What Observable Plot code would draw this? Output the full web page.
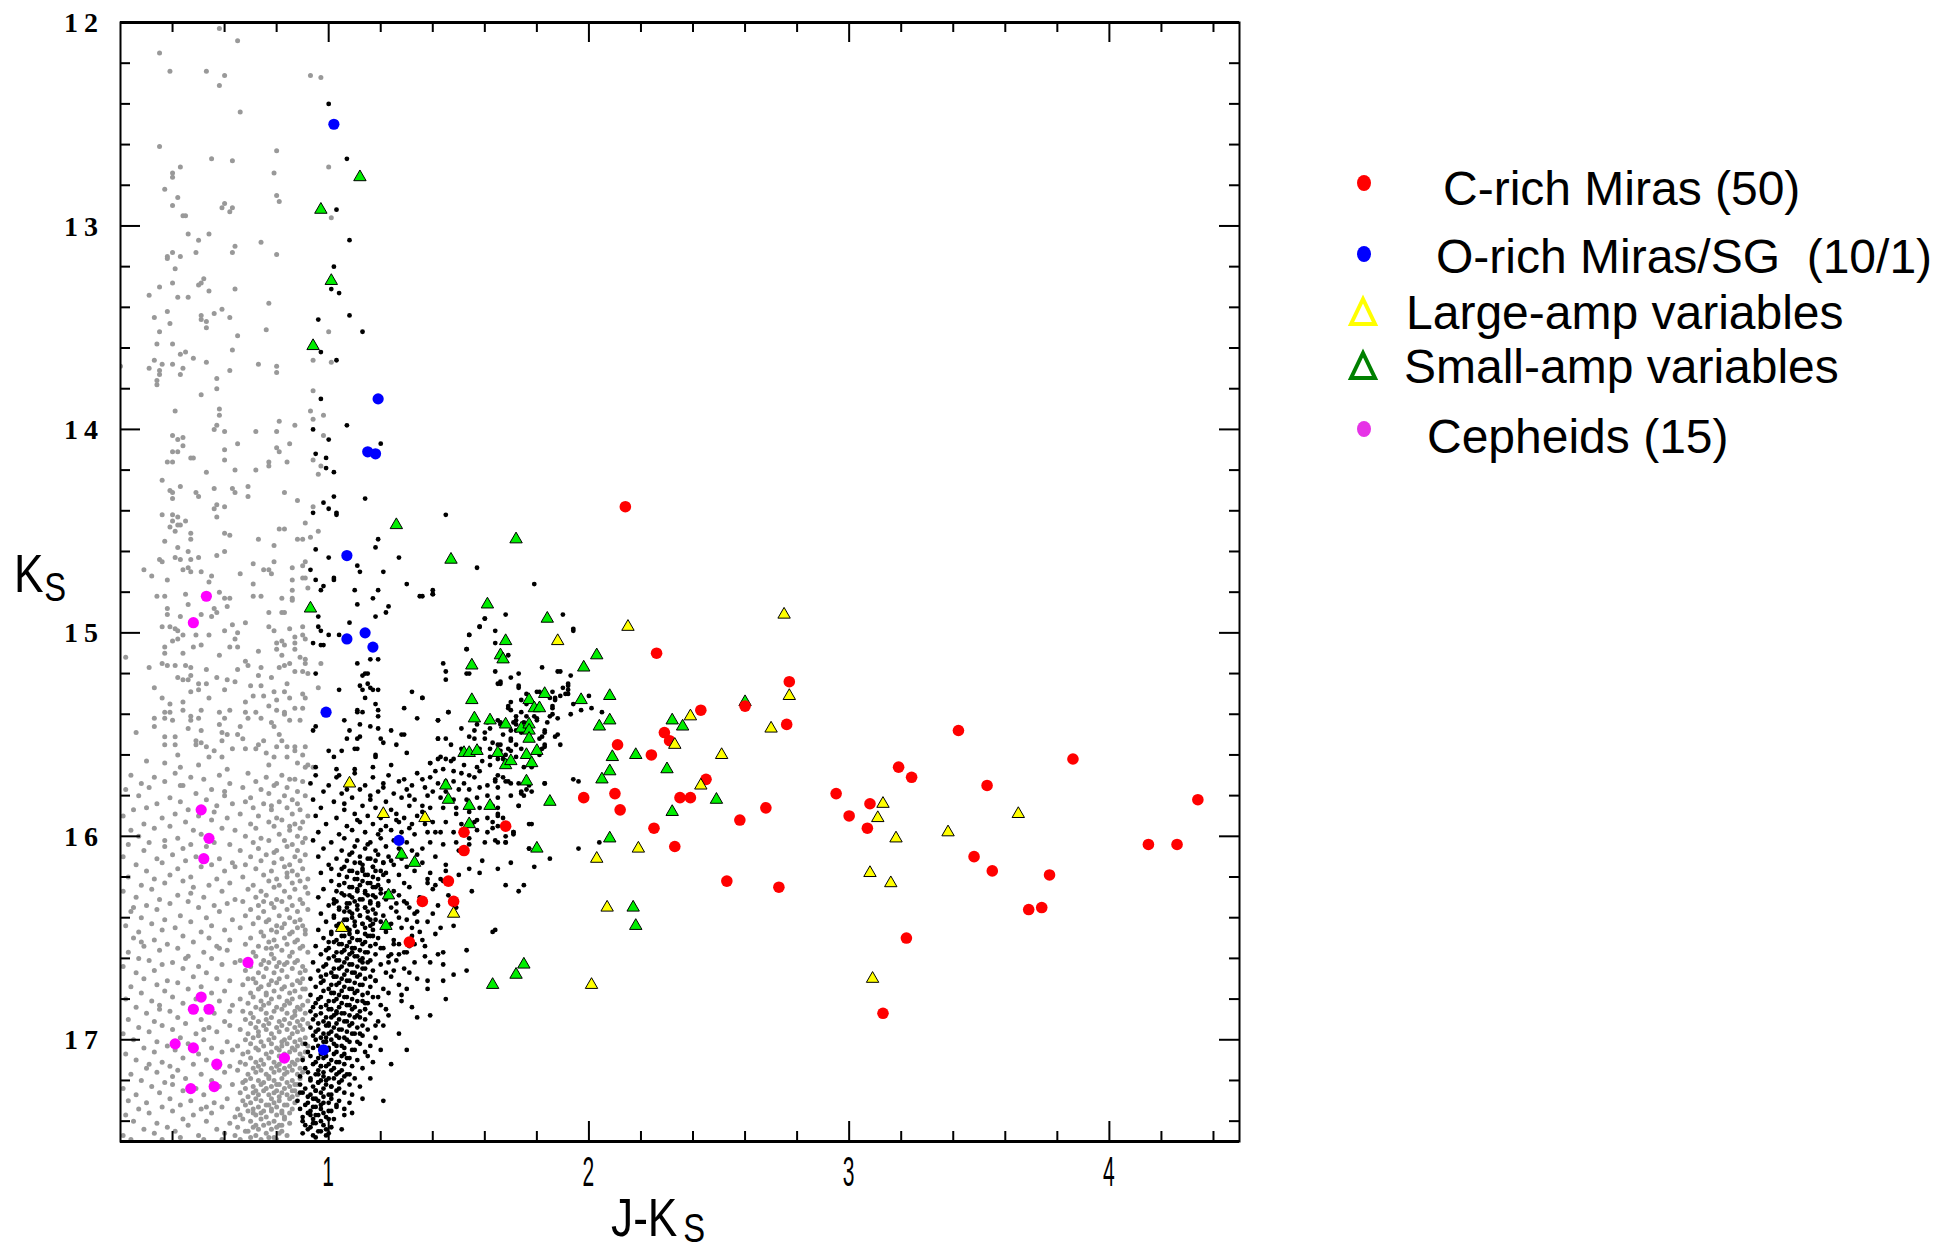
<!DOCTYPE html>
<html>
<head>
<meta charset="utf-8">
<script src="https://cdn.jsdelivr.net/npm/d3@7"></script>
<script src="https://cdn.jsdelivr.net/npm/@observablehq/plot@0.6"></script>
<style>
  body { margin: 0; background: #fff; }
  #chart { position: relative; width: 1941px; height: 1253px; }
</style>
</head>
<body>
<div id="chart"></div>
<script>
// ---------- axis ticks ----------
const xMajorTicks = [1, 2, 3, 4];
const xMinorTicks = [0.4, 0.6, 0.8, 1.2, 1.4, 1.6, 1.8, 2.2, 2.4, 2.6, 2.8, 3.2, 3.4, 3.6, 3.8, 4.2, 4.4];
const yMajorTicks = [12, 13, 14, 15, 16, 17];
const yMinorTicks = [12.2, 12.4, 12.6, 12.8, 13.2, 13.4, 13.6, 13.8, 14.2, 14.4, 14.6, 14.8,
  15.2, 15.4, 15.6, 15.8, 16.2, 16.4, 16.6, 16.8, 17.2, 17.4];

// ---------- variable stars: [J-Ks, Ks] ----------
const cRichMiras = [
  [2.14,14.38],[2.26,15.10],[2.77,15.24],[2.60,15.36],[2.76,15.45],[2.43,15.38],[2.29,15.49],
  [2.31,15.53],[2.11,15.55],[2.24,15.60],[2.45,15.72],[1.98,15.81],[2.10,15.79],[2.12,15.87],
  [2.35,15.81],[2.39,15.81],[1.68,15.95],[2.25,15.96],[2.33,16.05],[2.58,15.92],[2.68,15.86],
  [2.53,16.22],[2.73,16.25],[2.95,15.79],[3.00,15.90],[3.08,15.84],[3.07,15.96],[3.42,15.48],
  [3.86,15.62],[3.19,15.66],[3.24,15.71],[3.53,15.75],[4.34,15.82],[4.15,16.04],[4.26,16.04],
  [3.48,16.10],[3.55,16.17],[3.77,16.19],[3.69,16.36],[3.74,16.35],[3.22,16.50],[3.13,16.87],
  [1.52,15.98],[1.52,16.07],[1.46,16.22],[1.36,16.32],[1.48,16.32],[1.31,16.52]
];
const oRichMiras = [
  [1.02,12.50],[1.19,13.85],[1.15,14.11],[1.18,14.12],[1.07,14.62],[1.07,15.03],
  [1.14,15.00],[1.17,15.07],[0.99,15.39],[1.27,16.02],[0.98,17.05]
];
const cepheids = [
  [0.53,14.82],[0.48,14.95],[0.51,15.87],[0.54,16.01],[0.52,16.11],[0.69,16.62],[0.51,16.79],
  [0.48,16.85],[0.54,16.85],[0.41,17.02],[0.48,17.04],[0.57,17.12],[0.83,17.09],[0.47,17.24],[0.56,17.23]
];
const largeAmpVariables = [
  [2.15,14.97],[2.75,14.91],[1.88,15.04],[2.77,15.31],[2.39,15.41],[2.70,15.47],[2.33,15.55],
  [2.51,15.60],[2.43,15.75],[1.37,15.91],[2.19,16.06],[2.03,16.11],[2.07,16.35],[2.01,16.73],
  [3.08,16.18],[3.09,16.70],[3.13,15.84],[3.11,15.91],[3.18,16.01],[3.38,15.98],[3.65,15.89],
  [3.16,16.23],[1.08,15.74],[1.21,15.89],[1.05,16.45],[1.48,16.38]
];
const smallAmpVariables = [
  [1.12,12.76],[0.97,12.92],[1.01,13.27],[0.94,13.59],[1.26,14.47],[1.47,14.64],[1.72,14.54],
  [1.61,14.86],[0.93,14.88],[1.84,14.93],[1.68,15.04],[1.66,15.11],[1.67,15.13],[1.55,15.16],
  [2.03,15.11],[1.98,15.17],[1.55,15.33],[1.83,15.30],[1.77,15.33],[1.79,15.37],[1.81,15.37],
  [1.97,15.33],[2.08,15.31],[1.56,15.42],[1.62,15.43],[1.68,15.45],[1.74,15.47],[1.77,15.45],
  [1.77,15.48],[1.77,15.52],[2.04,15.46],[2.08,15.43],[2.32,15.43],[2.36,15.46],[2.60,15.34],
  [1.52,15.59],[1.54,15.59],[1.57,15.58],[1.65,15.59],[1.80,15.58],[1.76,15.60],[1.68,15.65],
  [1.70,15.63],[1.78,15.64],[2.09,15.61],[2.18,15.60],[2.30,15.67],[2.08,15.68],[2.05,15.72],
  [1.76,15.73],[1.45,15.75],[1.46,15.82],[1.54,15.85],[1.62,15.85],[1.85,15.83],[2.32,15.88],
  [2.49,15.82],[1.54,15.94],[2.08,16.01],[1.80,16.06],[1.28,16.09],[1.33,16.13],[1.23,16.29],
  [1.22,16.44],[2.17,16.35],[2.18,16.44],[1.75,16.63],[1.72,16.68],[1.63,16.73]
];

// ---------- foreground field stars (grey), flat J-Ks, Ks pairs ----------
const foregroundStars = [
  0.58,12.03, 0.65,12.09, 0.35,12.15, 0.39,12.24, 0.53,12.24, 0.60,12.26, 0.58,12.31, 0.93,12.26,
  0.97,12.27, 0.66,12.44, 0.35,12.61, 0.80,12.63, 0.55,12.67, 0.63,12.68, 0.43,12.71, 1.00,12.71,
  0.40,12.74, 0.40,12.76, 0.79,12.74, 0.37,12.82, 0.42,12.86, 0.40,12.90, 0.80,12.85, 0.81,12.88,
  0.60,12.89, 0.59,12.91, 0.63,12.91, 0.62,12.93, 0.44,12.95, 0.45,12.95, 1.01,12.96, 0.46,13.04,
  0.54,13.04, 0.50,13.07, 0.74,13.08, 0.40,13.13, 0.38,13.15, 0.38,13.16, 0.43,13.15, 0.49,13.13,
  0.64,13.10, 0.63,13.13, 0.80,13.14, 0.41,13.21, 0.40,13.28, 0.35,13.30, 0.31,13.34, 0.42,13.35,
  0.46,13.35, 0.52,13.26, 0.51,13.28, 0.50,13.29, 0.54,13.32, 0.64,13.31, 0.77,13.38, 0.38,13.42,
  0.33,13.45, 0.39,13.48, 0.51,13.44, 0.51,13.46, 0.53,13.47, 0.53,13.50, 0.56,13.43, 0.59,13.41,
  0.62,13.45, 0.76,13.51, 0.65,13.54, 1.00,13.52, 0.35,13.52, 0.34,13.58, 0.40,13.58, 0.43,13.63,
  0.45,13.62, 0.48,13.65, 0.63,13.61, 0.33,13.66, 0.31,13.70, 0.35,13.71, 0.35,13.73, 0.34,13.76,
  0.34,13.78, 0.36,13.68, 0.40,13.68, 0.44,13.70, 0.43,13.73, 0.53,13.67, 0.57,13.75, 0.57,13.80,
  0.51,13.83, 0.62,13.71, 0.73,13.68, 0.80,13.69, 0.80,13.72, 0.94,13.66, 1.01,13.67, 0.94,13.81,
  0.20,13.69,
  0.41,13.91, 0.58,13.90, 0.58,13.93, 0.57,13.98, 0.56,14.00, 0.60,14.01, 0.72,14.01, 0.81,13.96,
  0.80,14.01, 0.87,13.98, 0.93,13.91, 0.94,13.95, 0.98,13.93, 0.98,14.03, 0.40,14.03, 0.44,14.04,
  0.42,14.05, 0.44,14.08, 0.85,14.07, 0.65,14.07, 0.40,14.11, 0.42,14.11, 0.38,14.16, 0.40,14.16,
  0.47,14.14, 0.48,14.14, 0.60,14.10, 0.60,14.15, 0.80,14.09, 0.81,14.11, 0.77,14.16, 0.77,14.18,
  0.84,14.16, 0.94,14.15, 0.97,14.18, 0.96,14.22, 0.53,14.21, 0.64,14.20, 0.72,14.20, 0.36,14.25,
  0.39,14.30, 0.40,14.31, 0.43,14.28, 0.49,14.31, 0.50,14.33, 0.56,14.29, 0.63,14.29, 0.64,14.31,
  0.69,14.28, 0.69,14.33, 0.83,14.31, 0.88,14.35, 0.40,14.34, 0.57,14.37, 0.60,14.38, 0.56,14.39,
  0.57,14.43, 0.94,14.38, 0.36,14.42, 0.40,14.42, 0.42,14.43, 0.40,14.45, 0.42,14.47, 0.45,14.45,
  0.43,14.47, 0.41,14.50, 0.39,14.48, 0.47,14.51, 0.47,14.54, 0.60,14.51, 0.62,14.52, 0.73,14.54,
  0.81,14.49, 0.83,14.49, 0.79,14.57, 0.88,14.54, 0.90,14.54, 0.93,14.53, 0.96,14.50, 0.91,14.46,
  0.37,14.55, 0.42,14.58, 0.35,14.64, 0.36,14.65, 0.41,14.63, 0.43,14.64, 0.46,14.60, 0.47,14.64,
  0.50,14.63, 0.57,14.62, 0.60,14.60, 0.29,14.69, 0.32,14.72, 0.38,14.74, 0.44,14.69, 0.46,14.68,
  0.47,14.70, 0.51,14.70, 0.55,14.72, 0.54,14.75, 0.66,14.71, 0.71,14.66, 0.75,14.69, 0.77,14.69,
  0.79,14.65, 0.78,14.71, 0.86,14.68, 0.86,14.74, 0.90,14.67, 0.91,14.65, 0.91,14.73, 0.34,14.82,
  0.37,14.82, 0.45,14.81, 0.46,14.86, 0.58,14.80, 0.60,14.83, 0.62,14.83, 0.61,14.87, 0.71,14.76,
  0.71,14.82, 0.74,14.82, 0.82,14.83, 0.86,14.83, 0.86,14.84, 0.92,14.78, 0.90,14.73, 0.86,14.79,
  0.38,14.88, 0.38,14.91, 0.43,14.92, 0.51,14.91, 0.55,14.92, 0.56,14.88, 0.57,14.90, 0.63,14.96,
  0.68,14.95, 0.77,14.90, 0.82,14.90, 0.83,14.90, 0.36,14.97, 0.39,14.97, 0.41,14.98, 0.42,14.99,
  0.44,15.01, 0.49,15.01, 0.54,15.01, 0.60,14.99, 0.65,15.00, 0.64,15.03, 0.77,14.97, 0.79,14.99,
  0.80,15.05, 0.82,15.04, 0.83,15.06, 0.85,14.98, 0.87,15.02, 0.90,15.01, 0.90,14.97, 0.91,15.03,
  0.22,15.12, 0.37,15.07, 0.37,15.10, 0.40,15.04, 0.42,15.03, 0.44,15.10, 0.48,15.07, 0.51,15.06,
  0.58,15.11, 0.62,15.07, 0.65,15.07, 0.68,15.14, 0.69,15.16, 0.73,15.09, 0.80,15.08, 0.82,15.11,
  0.87,15.05, 0.87,15.08, 0.89,15.12, 0.91,15.13, 0.97,15.15, 0.31,15.17, 0.36,15.15, 0.38,15.16,
  0.41,15.16, 0.45,15.16, 0.47,15.17, 0.53,15.18, 0.44,15.23, 0.46,15.23, 0.47,15.21, 0.42,15.22,
  0.50,15.25, 0.53,15.25, 0.57,15.22, 0.61,15.23, 0.64,15.24, 0.65,15.18, 0.73,15.21, 0.74,15.17,
  0.78,15.22, 0.81,15.17, 0.83,15.16, 0.85,15.15, 0.87,15.19, 0.90,15.19, 0.92,15.20, 0.91,15.15,
  0.96,15.27, 0.33,15.27, 0.36,15.32, 0.39,15.35, 0.44,15.34, 0.47,15.29, 0.50,15.28, 0.54,15.32,
  0.60,15.28, 0.68,15.34, 0.70,15.26, 0.71,15.31, 0.74,15.26, 0.75,15.31, 0.77,15.36, 0.79,15.29,
  0.80,15.33, 0.83,15.29, 0.84,15.25, 0.85,15.32, 0.90,15.30, 0.91,15.32, 0.33,15.42, 0.33,15.46,
  0.26,15.49, 0.37,15.39, 0.37,15.42, 0.39,15.39, 0.40,15.43, 0.44,15.38, 0.46,15.47, 0.47,15.41,
  0.47,15.43, 0.50,15.42, 0.51,15.38, 0.51,15.48, 0.49,15.53, 0.49,15.55, 0.51,15.54, 0.58,15.39,
  0.60,15.42, 0.58,15.45, 0.59,15.49, 0.61,15.50, 0.62,15.38, 0.66,15.46, 0.65,15.50, 0.67,15.52,
  0.68,15.39, 0.69,15.42, 0.72,15.39, 0.74,15.42, 0.78,15.44, 0.80,15.38, 0.79,15.46, 0.83,15.40,
  0.83,15.39, 0.85,15.43, 0.87,15.37, 0.89,15.43, 0.90,15.37, 0.81,15.50, 0.82,15.53, 0.87,15.56,
  0.91,15.56, 0.90,15.60, 0.37,15.51, 0.37,15.55, 0.41,15.51, 0.41,15.55, 0.42,15.60, 0.37,15.64,
  0.43,15.66, 0.50,15.65, 0.53,15.56, 0.54,15.61, 0.56,15.58, 0.59,15.61, 0.59,15.53, 0.63,15.57,
  0.68,15.57, 0.72,15.57, 0.73,15.55, 0.75,15.53, 0.76,15.59, 0.77,15.65, 0.79,15.61, 0.80,15.56,
  0.84,15.56, 0.84,15.61, 0.87,15.58, 0.88,15.64, 0.92,15.65, 0.30,15.63, 0.61,15.67, 0.91,15.66,
  0.94,15.66,
  0.24,15.70, 0.33,15.71, 0.41,15.69, 0.47,15.71, 0.58,15.70, 0.69,15.69, 0.76,15.71, 0.82,15.70, 0.87,15.72,
  0.28,15.74, 0.37,15.73, 0.52,15.72, 0.62,15.74, 0.72,15.73, 0.80,15.74, 0.85,15.72, 0.90,15.73,
  0.22,15.77, 0.31,15.76, 0.44,15.75, 0.55,15.77, 0.67,15.76, 0.74,15.77, 0.79,15.75, 0.84,15.76, 0.88,15.78,
  0.27,15.80, 0.39,15.81, 0.49,15.79, 0.60,15.80, 0.70,15.81, 0.77,15.79, 0.83,15.80, 0.86,15.82, 0.91,15.80,
  0.34,15.84, 0.43,15.83, 0.53,15.82, 0.63,15.84, 0.68,15.83, 0.75,15.84, 0.81,15.83, 0.88,15.84,
  0.25,15.87, 0.30,15.86, 0.46,15.87, 0.57,15.85, 0.71,15.86, 0.78,15.87, 0.84,15.86, 0.89,15.87,
  0.21,15.90, 0.36,15.91, 0.41,15.89, 0.50,15.90, 0.61,15.91, 0.66,15.89, 0.73,15.90, 0.80,15.91, 0.86,15.89, 0.92,15.90,
  0.29,15.94, 0.45,15.93, 0.55,15.92, 0.70,15.94, 0.77,15.93, 0.82,15.92, 0.87,15.94, 0.90,15.93,
  0.24,15.97, 0.33,15.96, 0.39,15.95, 0.48,15.97, 0.59,15.96, 0.64,15.97, 0.72,15.96, 0.79,15.95, 0.85,15.97, 0.89,15.96,
  0.27,16.00, 0.42,16.01, 0.51,15.99, 0.68,16.00, 0.74,16.01, 0.81,15.99, 0.83,16.02, 0.88,16.00, 0.91,16.01,
  0.23,16.04, 0.31,16.03, 0.37,16.02, 0.47,16.04, 0.56,16.03, 0.62,16.04, 0.71,16.03, 0.77,16.02, 0.86,16.04, 0.90,16.03,
  0.29,16.07, 0.44,16.06, 0.53,16.05, 0.66,16.07, 0.73,16.06, 0.80,16.07, 0.84,16.05, 0.88,16.07,
  0.21,16.10, 0.34,16.11, 0.40,16.09, 0.49,16.10, 0.58,16.11, 0.70,16.10, 0.76,16.09, 0.82,16.11, 0.87,16.10, 0.91,16.09,
  0.26,16.14, 0.36,16.13, 0.45,16.12, 0.55,16.14, 0.63,16.13, 0.68,16.14, 0.74,16.12, 0.79,16.13, 0.85,16.14, 0.89,16.12,
  0.30,16.17, 0.42,16.16, 0.51,16.15, 0.60,16.17, 0.72,16.16, 0.78,16.17, 0.83,16.15, 0.86,16.17, 0.90,16.16,
  0.23,16.20, 0.33,16.21, 0.39,16.19, 0.47,16.20, 0.57,16.21, 0.67,16.20, 0.75,16.19, 0.80,16.21, 0.84,16.20, 0.88,16.19, 0.92,16.21,
  0.28,16.24, 0.37,16.23, 0.44,16.22, 0.54,16.24, 0.62,16.23, 0.71,16.24, 0.77,16.22, 0.81,16.24, 0.86,16.23, 0.89,16.22,
  0.21,16.27, 0.32,16.26, 0.48,16.25, 0.59,16.27, 0.69,16.26, 0.74,16.27, 0.79,16.25, 0.83,16.27, 0.87,16.26, 0.91,16.25,
  0.26,16.30, 0.35,16.31, 0.42,16.29, 0.52,16.30, 0.64,16.31, 0.72,16.30, 0.76,16.29, 0.80,16.31, 0.85,16.30, 0.89,16.31,
  0.30,16.34, 0.39,16.33, 0.46,16.32, 0.56,16.34, 0.61,16.33, 0.67,16.32, 0.73,16.34, 0.78,16.33, 0.82,16.32, 0.86,16.34, 0.90,16.33,
  0.24,16.37, 0.34,16.36, 0.50,16.35, 0.58,16.37, 0.70,16.36, 0.75,16.37, 0.79,16.35, 0.84,16.36, 0.88,16.37, 0.92,16.36,
  0.28,16.40, 0.37,16.41, 0.43,16.39, 0.53,16.40, 0.63,16.41, 0.68,16.39, 0.73,16.40, 0.77,16.41, 0.81,16.39, 0.85,16.40, 0.89,16.41,
  0.22,16.44, 0.32,16.43, 0.47,16.42, 0.55,16.44, 0.71,16.43, 0.76,16.42, 0.80,16.44, 0.83,16.43, 0.87,16.42, 0.90,16.44,
  0.27,16.47, 0.36,16.46, 0.41,16.45, 0.51,16.47, 0.60,16.46, 0.66,16.45, 0.74,16.47, 0.78,16.46, 0.82,16.45, 0.86,16.47, 0.91,16.46,
  0.25,16.50, 0.33,16.51, 0.44,16.49, 0.54,16.50, 0.62,16.51, 0.70,16.50, 0.75,16.49, 0.79,16.51, 0.83,16.50, 0.85,16.48, 0.88,16.51,
  0.29,16.54, 0.38,16.53, 0.48,16.52, 0.57,16.54, 0.68,16.53, 0.73,16.54, 0.77,16.52, 0.80,16.54, 0.84,16.53, 0.87,16.52, 0.90,16.54,
  0.23,16.57, 0.35,16.56, 0.42,16.55, 0.52,16.57, 0.61,16.56, 0.71,16.57, 0.76,16.55, 0.78,16.58, 0.82,16.56, 0.86,16.57, 0.89,16.55, 0.92,16.57,
  0.27,16.60, 0.31,16.61, 0.46,16.59, 0.55,16.60, 0.66,16.61, 0.72,16.59, 0.75,16.61, 0.79,16.60, 0.81,16.62, 0.85,16.59, 0.88,16.61,
  0.21,16.64, 0.36,16.63, 0.40,16.62, 0.50,16.64, 0.59,16.63, 0.64,16.62, 0.70,16.64, 0.74,16.63, 0.77,16.62, 0.80,16.64, 0.83,16.63, 0.87,16.62, 0.90,16.64,
  0.26,16.67, 0.33,16.66, 0.44,16.65, 0.53,16.67, 0.68,16.66, 0.73,16.67, 0.76,16.65, 0.79,16.67, 0.82,16.66, 0.86,16.65, 0.89,16.67, 0.91,16.66,
  0.29,16.70, 0.38,16.71, 0.48,16.69, 0.57,16.70, 0.62,16.71, 0.71,16.70, 0.75,16.69, 0.78,16.71, 0.81,16.70, 0.84,16.69, 0.88,16.71, 0.90,16.70,
  0.24,16.74, 0.34,16.73, 0.42,16.72, 0.51,16.74, 0.67,16.73, 0.72,16.72, 0.74,16.74, 0.77,16.73, 0.80,16.72, 0.83,16.74, 0.86,16.73, 0.89,16.72,
  0.28,16.77, 0.37,16.76, 0.46,16.75, 0.55,16.77, 0.60,16.76, 0.70,16.77, 0.73,16.75, 0.76,16.77, 0.79,16.76, 0.82,16.75, 0.85,16.77, 0.87,16.76, 0.91,16.75,
  0.22,16.80, 0.32,16.81, 0.40,16.79, 0.49,16.80, 0.58,16.81, 0.66,16.80, 0.71,16.79, 0.74,16.81, 0.78,16.80, 0.81,16.79, 0.84,16.81, 0.86,16.80, 0.89,16.79, 0.92,16.81,
  0.26,16.84, 0.35,16.83, 0.44,16.82, 0.53,16.84, 0.63,16.83, 0.69,16.82, 0.72,16.84, 0.75,16.83, 0.77,16.82, 0.80,16.84, 0.83,16.83, 0.85,16.82, 0.88,16.84, 0.90,16.83,
  0.30,16.87, 0.39,16.86, 0.47,16.85, 0.56,16.87, 0.67,16.86, 0.70,16.87, 0.74,16.85, 0.76,16.87, 0.79,16.86, 0.82,16.85, 0.84,16.87, 0.87,16.86, 0.89,16.85, 0.91,16.87,
  0.23,16.90, 0.33,16.91, 0.42,16.89, 0.51,16.90, 0.60,16.91, 0.68,16.90, 0.71,16.89, 0.73,16.91, 0.76,16.90, 0.78,16.89, 0.81,16.91, 0.83,16.90, 0.86,16.89, 0.88,16.91, 0.90,16.90,
  0.27,16.94, 0.36,16.93, 0.45,16.92, 0.54,16.94, 0.62,16.93, 0.70,16.92, 0.72,16.94, 0.75,16.93, 0.77,16.92, 0.80,16.94, 0.82,16.93, 0.85,16.92, 0.87,16.94, 0.89,16.93, 0.92,16.92,
  0.21,16.97, 0.31,16.96, 0.40,16.95, 0.49,16.97, 0.57,16.96, 0.66,16.95, 0.69,16.97, 0.73,16.96, 0.76,16.95, 0.78,16.97, 0.81,16.96, 0.84,16.95, 0.86,16.97, 0.88,16.96, 0.90,16.95,
  0.25,17.00, 0.34,17.01, 0.43,16.99, 0.52,17.00, 0.61,17.01, 0.68,17.00, 0.71,16.99, 0.74,17.01, 0.77,17.00, 0.79,16.99, 0.82,17.01, 0.83,17.00, 0.85,16.99, 0.87,17.01, 0.89,17.00, 0.91,16.99,
  0.29,17.04, 0.38,17.03, 0.46,17.02, 0.55,17.04, 0.65,17.03, 0.70,17.02, 0.72,17.04, 0.75,17.03, 0.78,17.02, 0.80,17.04, 0.82,17.03, 0.84,17.02, 0.86,17.04, 0.88,17.03, 0.90,17.02,
  0.22,17.07, 0.33,17.06, 0.41,17.05, 0.50,17.07, 0.59,17.06, 0.63,17.05, 0.67,17.07, 0.69,17.06, 0.73,17.05, 0.76,17.07, 0.78,17.06, 0.81,17.05, 0.83,17.07, 0.85,17.06, 0.87,17.05, 0.89,17.07, 0.91,17.06,
  0.26,17.10, 0.36,17.11, 0.44,17.09, 0.53,17.10, 0.66,17.11, 0.70,17.09, 0.72,17.11, 0.74,17.10, 0.77,17.09, 0.79,17.11, 0.82,17.10, 0.84,17.09, 0.86,17.11, 0.88,17.10, 0.90,17.09,
  0.30,17.14, 0.39,17.13, 0.48,17.12, 0.57,17.14, 0.62,17.13, 0.68,17.12, 0.71,17.14, 0.73,17.13, 0.75,17.12, 0.78,17.14, 0.80,17.13, 0.81,17.12, 0.83,17.14, 0.85,17.13, 0.87,17.12, 0.89,17.14,
  0.24,17.17, 0.34,17.16, 0.42,17.15, 0.51,17.17, 0.60,17.16, 0.65,17.15, 0.69,17.17, 0.72,17.16, 0.74,17.15, 0.76,17.17, 0.79,17.16, 0.81,17.15, 0.83,17.17, 0.84,17.16, 0.86,17.15, 0.88,17.17, 0.90,17.16,
  0.28,17.20, 0.37,17.21, 0.45,17.19, 0.55,17.20, 0.67,17.21, 0.70,17.19, 0.73,17.20, 0.75,17.21, 0.77,17.19, 0.79,17.20, 0.80,17.22, 0.82,17.19, 0.84,17.21, 0.86,17.20, 0.87,17.22, 0.89,17.19,
  0.21,17.24, 0.32,17.23, 0.40,17.22, 0.49,17.24, 0.58,17.23, 0.63,17.22, 0.68,17.24, 0.71,17.23, 0.72,17.25, 0.74,17.22, 0.76,17.24, 0.78,17.23, 0.80,17.25, 0.81,17.22, 0.83,17.24, 0.85,17.23, 0.87,17.25, 0.88,17.22,
  0.26,17.27, 0.35,17.26, 0.44,17.25, 0.52,17.27, 0.66,17.26, 0.69,17.28, 0.71,17.26, 0.73,17.27, 0.75,17.25, 0.77,17.27, 0.79,17.26, 0.81,17.28, 0.82,17.26, 0.84,17.27, 0.86,17.25, 0.88,17.27,
  0.23,17.30, 0.30,17.31, 0.39,17.29, 0.47,17.30, 0.56,17.31, 0.61,17.29, 0.67,17.30, 0.70,17.31, 0.72,17.29, 0.74,17.30, 0.76,17.32, 0.78,17.29, 0.79,17.31, 0.81,17.30, 0.83,17.32, 0.85,17.29, 0.87,17.31,
  0.27,17.34, 0.36,17.33, 0.43,17.32, 0.51,17.34, 0.59,17.33, 0.65,17.34, 0.68,17.32, 0.71,17.34, 0.73,17.33, 0.75,17.35, 0.77,17.32, 0.78,17.34, 0.80,17.33, 0.82,17.35, 0.84,17.32, 0.86,17.34,
  0.22,17.37, 0.31,17.36, 0.40,17.35, 0.48,17.37, 0.55,17.36, 0.66,17.37, 0.69,17.35, 0.72,17.37, 0.74,17.36, 0.76,17.38, 0.78,17.35, 0.80,17.37, 0.82,17.36, 0.83,17.38, 0.85,17.36,
  0.25,17.40, 0.34,17.41, 0.44,17.39, 0.53,17.40, 0.62,17.41, 0.67,17.39, 0.70,17.40, 0.72,17.42, 0.74,17.39, 0.77,17.41, 0.79,17.40, 0.81,17.42, 0.83,17.39, 0.85,17.41,
  0.29,17.44, 0.38,17.43, 0.46,17.42, 0.57,17.44, 0.65,17.43, 0.68,17.45, 0.71,17.43, 0.73,17.44, 0.75,17.42, 0.78,17.44, 0.80,17.43, 0.82,17.45,
  0.21,17.47, 0.33,17.46, 0.41,17.45, 0.50,17.47, 0.60,17.46, 0.64,17.47, 0.69,17.45, 0.72,17.47, 0.76,17.46, 0.79,17.48, 0.81,17.46, 0.84,17.47,
  0.24,17.49, 0.36,17.49, 0.43,17.48, 0.52,17.49, 0.59,17.49, 0.66,17.49, 0.70,17.48, 0.74,17.49, 0.77,17.48, 0.80,17.49,
  0.80,16.47, 0.84,16.62, 0.76,16.78, 0.87,16.88, 0.73,16.98, 0.81,17.08, 0.77,17.18, 0.86,17.28,
  0.71,17.36, 0.82,17.42, 0.78,16.55, 0.69,16.70, 0.88,16.45, 0.75,16.32, 0.84,16.18, 0.79,16.08,
  0.85,15.95, 0.78,15.85, 0.92,16.28, 0.91,16.48, 0.90,16.75, 0.92,17.03, 0.68,17.20, 0.64,17.38,
  0.62,16.86, 0.58,16.55, 0.45,16.60, 0.35,16.85, 0.28,16.52, 0.40,17.18, 0.53,17.33, 0.31,17.12,
  0.47,16.28, 0.37,16.05, 0.56,15.88, 0.43,15.75, 0.25,16.35, 0.64,16.15, 0.60,15.78, 0.52,16.95
];

// ---------- galaxy members (black), flat J-Ks, Ks pairs ----------
const memberStars = [
  // upper branch
  1.00,12.40, 1.07,12.67, 1.03,12.92, 1.08,13.07, 1.02,13.20, 1.01,13.31, 1.04,13.33, 0.96,13.46,
  1.08,13.44, 1.13,13.52, 0.97,13.62, 1.03,13.66, 0.97,13.85,
  0.94,14.00, 1.07,13.98, 1.00,14.05, 1.20,14.07, 0.95,14.12, 0.99,14.14, 0.99,14.19, 1.02,14.21,
  1.02,14.33, 1.14,14.34, 0.98,14.36, 1.00,14.39, 0.94,14.41, 1.03,14.42, 1.03,14.41, 1.45,14.42,
  1.19,14.54, 1.18,14.58, 0.95,14.59, 1.00,14.63, 1.27,14.63, 1.11,14.67, 1.12,14.70, 1.21,14.70,
  1.57,14.68, 0.93,14.69, 1.02,14.73, 1.02,14.74, 0.95,14.74, 1.10,14.79, 1.19,14.79, 1.30,14.76,
  0.98,14.77, 0.97,14.79, 1.36,14.82, 1.40,14.79, 1.40,14.81, 1.17,14.83, 1.11,14.86, 1.23,14.87,
  1.22,14.90, 1.18,14.92, 1.60,14.93, 0.96,14.92, 1.08,14.95, 1.58,14.97, 1.04,15.01, 1.00,15.01,
  0.96,14.97, 0.97,14.99, 0.97,15.06, 0.98,15.06, 0.94,15.05, 1.54,15.01, 1.53,15.08, 1.16,15.13,
  1.19,15.13, 1.11,15.15, 1.44,15.15, 1.45,15.19, 1.45,15.23, 1.53,15.20, 1.64,15.19, 1.65,15.25,
  0.95,15.20, 1.14,15.20, 1.15,15.20, 1.13,15.21, 1.15,15.25, 1.12,15.26, 1.16,15.27, 1.14,15.32,
  1.13,15.28, 1.17,15.28, 1.19,15.28, 1.04,15.28, 0.95,15.46, 0.94,15.48, 1.32,15.29, 1.36,15.32,
  1.18,15.35, 1.19,15.38, 1.19,15.41, 1.11,15.38, 1.11,15.39, 1.13,15.39, 1.29,15.37, 1.34,15.42,
  1.42,15.43, 1.46,15.39, 1.51,15.47, 1.06,15.43, 1.12,15.45, 1.16,15.46, 1.08,15.48, 1.12,15.51,
  1.11,15.52, 1.07,15.52, 1.19,15.47, 1.20,15.52, 1.24,15.48, 1.28,15.50, 1.29,15.50, 1.21,15.54,
  1.26,15.55, 1.05,15.58, 1.11,15.57, 1.10,15.57, 1.02,15.61, 1.00,15.58, 1.18,15.60, 1.18,15.61,
  1.24,15.65, 1.30,15.59, 1.39,15.64, 1.42,15.52, 1.43,15.61, 0.95,15.66, 1.03,15.67, 1.04,15.70,
  1.10,15.67, 1.17,15.66,
  // red-giant / AGB diagonal
  1.79,14.76, 1.68,14.91, 1.90,14.91, 1.94,14.98, 1.64,14.99, 1.69,15.11, 1.82,15.17, 1.88,15.19,
  1.89,15.19, 1.93,15.21, 1.70,15.22, 1.73,15.20, 1.66,15.25, 1.73,15.26, 1.92,15.25, 1.90,15.27,
  1.81,15.29, 1.82,15.30, 1.85,15.32, 1.87,15.33, 1.76,15.30, 2.00,15.31, 1.70,15.34, 1.69,15.37,
  1.86,15.37, 1.86,15.40, 1.92,15.30, 1.94,15.35, 1.97,15.38, 2.01,15.37, 2.05,15.39, 1.93,15.40,
  1.79,15.41, 1.80,15.42, 1.83,15.48, 1.76,15.41, 1.75,15.44, 1.72,15.43, 1.72,15.45, 1.66,15.44,
  1.77,15.46, 1.74,15.49, 1.70,15.48, 1.70,15.52, 1.82,15.51, 1.88,15.50, 1.89,15.55, 1.83,15.55,
  1.82,15.57, 1.69,15.57, 1.72,15.61, 1.66,15.55, 1.67,15.62, 1.78,15.66, 1.75,15.66,
  1.40,14.81, 1.35,14.82, 1.60,14.93, 1.94,14.99, 1.58,14.97, 1.54,15.01, 1.64,15.05, 1.53,15.08,
  1.54,15.20, 1.66,15.24, 1.73,15.27, 1.36,15.32, 1.46,15.39, 1.42,15.43, 1.56,15.52, 1.54,15.51,
  1.42,15.52, 1.45,15.52, 1.62,15.47, 1.60,15.49, 1.69,15.36, 1.70,15.38, 1.72,15.41, 1.74,15.39,
  1.65,15.43, 1.66,15.45, 1.80,15.43, 1.83,15.49, 1.81,15.52, 1.87,15.51, 1.86,15.36, 1.85,15.41,
  1.83,15.56, 1.81,15.60, 1.89,15.31, 1.91,15.30, 1.92,15.28, 1.92,15.26, 1.86,15.29, 1.87,15.32,
  1.74,15.33, 1.76,15.35, 1.71,15.44, 1.80,15.29, 1.88,15.42, 1.84,15.44, 1.65,15.55, 1.66,15.58,
  1.62,15.57, 1.68,15.60, 1.72,15.55, 1.62,15.61, 1.62,15.65, 1.59,15.63, 1.58,15.68,
  1.57,15.45, 1.60,15.52, 1.61,15.44, 1.67,15.50, 1.70,15.53, 1.72,15.48, 1.58,15.57, 1.65,15.62,
  1.54,15.58, 1.51,15.57, 1.47,15.55, 1.70,15.58, 1.74,15.57, 1.63,15.54, 1.56,15.48,
  1.52,15.65, 1.48,15.62, 1.47,15.63, 1.45,15.62, 1.42,15.62, 1.39,15.64, 1.41,15.68, 1.44,15.67,
  1.48,15.68, 1.51,15.69, 1.54,15.70, 1.57,15.66, 1.56,15.71, 1.52,15.74, 1.48,15.73, 1.45,15.73,
  1.42,15.74, 1.39,15.71, 1.37,15.76, 1.40,15.78, 1.45,15.78, 1.50,15.77, 1.54,15.77, 1.58,15.76,
  1.61,15.75, 1.64,15.73, 1.67,15.71, 1.65,15.76, 1.61,15.80, 1.57,15.81, 1.53,15.82, 1.48,15.82,
  1.43,15.81, 1.38,15.80, 1.36,15.85, 1.39,15.86, 1.44,15.86, 1.49,15.86, 1.54,15.88, 1.58,15.86,
  1.63,15.85, 1.65,15.89, 1.61,15.91, 1.56,15.93, 1.51,15.94, 1.45,15.93, 1.40,15.93, 1.37,15.94,
  1.38,15.98, 1.43,15.98, 1.48,15.98, 1.53,15.98, 1.57,15.97, 1.61,15.98, 1.63,15.96, 1.64,16.02,
  1.60,16.03, 1.54,16.04, 1.49,16.03, 1.44,16.04, 1.39,16.03, 1.36,16.06, 1.67,15.91, 1.68,15.73,
  1.73,15.74, 1.70,15.80, 1.74,15.78, 1.76,15.77, 1.78,15.78, 1.83,15.74, 1.77,15.94, 1.71,15.98,
  1.68,16.03, 1.68,16.00, 1.65,16.03,
  // scattered points redward of the giant branch
  1.65,15.70, 1.64,15.72, 1.69,15.73, 1.70,15.74, 1.74,15.79, 1.75,15.80, 1.77,15.75, 1.83,15.74,
  1.94,15.72, 1.96,15.73, 1.65,15.81, 1.65,15.86, 1.73,15.85, 1.65,15.90, 1.78,15.94, 1.65,15.95,
  1.71,15.98, 1.71,15.99, 1.68,16.03, 1.77,16.06, 1.85,16.11, 1.96,16.06, 2.04,16.03, 1.70,16.13,
  1.65,16.16, 1.79,16.15, 1.68,16.24, 1.73,16.27, 1.75,16.24, 1.64,16.46,
  1.77,16.06, 1.63,16.47, 1.53,16.56, 1.53,16.66, 1.48,16.68, 1.44,16.71, 1.38,16.71, 1.38,16.75,
  1.55,16.27, 1.48,16.44, 1.59,16.12, 1.58,16.18, 1.54,16.16, 1.57,15.92, 1.63,15.93, 1.49,15.89,
  1.73,15.85, 1.54,16.01, 1.50,16.07, 1.41,15.98, 1.45,16.17, 1.43,16.21, 1.41,16.24, 1.34,16.37,
  1.38,16.23, 1.31,16.35, 1.29,16.32, 1.42,16.58, 1.44,16.57, 1.39,16.62, 1.37,16.59, 1.44,16.63,
  1.41,16.48, 1.34,16.42, 1.35,16.47, 1.33,16.53, 1.29,16.57, 1.31,16.54, 1.27,16.58, 1.24,16.58,
  1.25,16.53, 1.32,16.84, 1.34,16.89, 1.28,16.78, 1.30,16.75, 1.25,16.66,
  // main red giant cloud
  0.95,15.70, 1.03,15.71, 1.10,15.69, 1.17,15.71, 1.23,15.70, 1.29,15.72, 1.34,15.69,
  0.93,15.74, 1.00,15.75, 1.08,15.73, 1.14,15.75, 1.21,15.74, 1.27,15.73, 1.32,15.75,
  0.98,15.78, 1.05,15.79, 1.12,15.77, 1.19,15.78, 1.25,15.79, 1.30,15.77,
  0.94,15.82, 1.02,15.83, 1.09,15.81, 1.16,15.82, 1.22,15.83, 1.28,15.81, 1.33,15.82,
  0.97,15.86, 1.06,15.87, 1.13,15.85, 1.18,15.86, 1.24,15.87, 1.31,15.85,
  0.95,15.90, 1.03,15.91, 1.10,15.89, 1.15,15.90, 1.20,15.91, 1.26,15.89, 1.29,15.91, 1.34,15.90,
  0.99,15.94, 1.07,15.95, 1.12,15.93, 1.17,15.94, 1.22,15.95, 1.27,15.93, 1.32,15.94,
  0.96,15.98, 1.04,15.99, 1.09,15.97, 1.14,15.98, 1.19,15.99, 1.24,15.97, 1.28,15.98, 1.33,15.99,
  0.94,16.02, 1.01,16.03, 1.06,16.01, 1.11,16.02, 1.16,16.03, 1.20,16.01, 1.25,16.02, 1.30,16.03,
  0.98,16.06, 1.05,16.07, 1.10,16.05, 1.14,16.06, 1.18,16.07, 1.22,16.05, 1.27,16.06, 1.32,16.07,
  0.96,16.10, 1.03,16.11, 1.08,16.09, 1.12,16.10, 1.16,16.11, 1.19,16.09, 1.23,16.10, 1.28,16.11, 1.34,16.09, 1.41,16.10,
  1.00,16.14, 1.06,16.15, 1.10,16.13, 1.13,16.14, 1.17,16.15, 1.21,16.13, 1.25,16.14, 1.30,16.15, 1.36,16.13, 1.45,16.14,
  0.97,16.18, 1.04,16.19, 1.08,16.17, 1.11,16.18, 1.15,16.19, 1.18,16.17, 1.22,16.18, 1.27,16.19, 1.33,16.17, 1.39,16.18,
  1.01,16.22, 1.06,16.23, 1.10,16.21, 1.13,16.22, 1.16,16.23, 1.19,16.21, 1.23,16.22, 1.29,16.23, 1.38,16.21, 1.44,16.22,
  0.98,16.26, 1.03,16.27, 1.08,16.25, 1.11,16.26, 1.14,16.27, 1.17,16.25, 1.20,16.26, 1.25,16.27, 1.31,16.25, 1.40,16.26,
  0.96,16.30, 1.02,16.31, 1.06,16.29, 1.09,16.30, 1.12,16.31, 1.15,16.29, 1.18,16.30, 1.22,16.31, 1.27,16.29, 1.35,16.30,
  1.00,16.34, 1.04,16.35, 1.08,16.33, 1.11,16.34, 1.14,16.35, 1.16,16.33, 1.19,16.34, 1.24,16.35, 1.30,16.33, 1.42,16.34,
  0.97,16.38, 1.02,16.39, 1.06,16.37, 1.09,16.38, 1.12,16.39, 1.15,16.37, 1.18,16.38, 1.21,16.39, 1.26,16.37, 1.33,16.38,
  0.99,16.42, 1.04,16.43, 1.07,16.41, 1.10,16.42, 1.13,16.43, 1.16,16.41, 1.20,16.42, 1.24,16.43, 1.30,16.41, 1.38,16.42,
  0.96,16.46, 1.01,16.47, 1.05,16.45, 1.08,16.46, 1.11,16.47, 1.14,16.45, 1.17,16.46, 1.22,16.47, 1.28,16.45,
  0.98,16.50, 1.03,16.51, 1.06,16.49, 1.09,16.50, 1.12,16.51, 1.15,16.49, 1.19,16.50, 1.25,16.51, 1.32,16.49,
  0.95,16.54, 1.00,16.55, 1.04,16.53, 1.07,16.54, 1.10,16.55, 1.13,16.53, 1.16,16.54, 1.21,16.55, 1.27,16.53, 1.37,16.54,
  0.97,16.58, 1.02,16.59, 1.05,16.57, 1.08,16.58, 1.11,16.59, 1.14,16.57, 1.18,16.58, 1.23,16.59, 1.30,16.57,
  0.94,16.62, 0.99,16.63, 1.03,16.61, 1.06,16.62, 1.09,16.63, 1.12,16.61, 1.15,16.62, 1.20,16.63, 1.26,16.61, 1.33,16.62,
  0.96,16.66, 1.01,16.67, 1.04,16.65, 1.07,16.66, 1.10,16.67, 1.13,16.65, 1.17,16.66, 1.22,16.67, 1.29,16.65,
  0.93,16.70, 0.98,16.71, 1.02,16.69, 1.05,16.70, 1.08,16.71, 1.11,16.69, 1.14,16.70, 1.18,16.71, 1.24,16.69, 1.34,16.70,
  0.95,16.74, 1.00,16.75, 1.03,16.73, 1.06,16.74, 1.09,16.75, 1.12,16.73, 1.16,16.74, 1.21,16.75, 1.27,16.73,
  0.93,16.78, 0.97,16.79, 1.01,16.77, 1.04,16.78, 1.07,16.79, 1.10,16.77, 1.13,16.78, 1.17,16.79, 1.23,16.77,
  0.95,16.82, 0.99,16.83, 1.02,16.81, 1.05,16.82, 1.08,16.83, 1.11,16.81, 1.15,16.82, 1.20,16.83, 1.28,16.81,
  0.93,16.86, 0.97,16.87, 1.00,16.85, 1.03,16.86, 1.06,16.87, 1.09,16.85, 1.12,16.86, 1.16,16.87, 1.22,16.85,
  0.94,16.90, 0.98,16.91, 1.01,16.89, 1.04,16.90, 1.07,16.91, 1.10,16.89, 1.14,16.90, 1.19,16.91,
  0.93,16.94, 0.96,16.95, 0.99,16.93, 1.02,16.94, 1.05,16.95, 1.08,16.93, 1.11,16.94, 1.15,16.95, 1.21,16.93,
  0.94,16.98, 0.97,16.99, 1.00,16.97, 1.03,16.98, 1.06,16.99, 1.09,16.97, 1.13,16.98, 1.18,16.99,
  0.91,17.02, 0.96,17.03, 0.99,17.01, 1.02,17.02, 1.05,17.03, 1.08,17.01, 1.12,17.02, 1.16,17.03,
  0.92,17.06, 0.97,17.07, 1.00,17.05, 1.03,17.06, 1.06,17.07, 1.10,17.05, 1.14,17.06,
  0.90,17.10, 0.95,17.11, 0.98,17.09, 1.01,17.10, 1.04,17.11, 1.07,17.09, 1.11,17.10, 1.17,17.11,
  0.91,17.14, 0.96,17.15, 0.99,17.13, 1.02,17.14, 1.05,17.15, 1.09,17.13, 1.13,17.14,
  0.89,17.18, 0.93,17.19, 0.96,17.17, 0.98,17.18, 1.00,17.19, 1.03,17.17, 1.06,17.18, 1.10,17.19,
  0.89,17.22, 0.94,17.23, 0.96,17.21, 0.99,17.22, 1.01,17.23, 1.04,17.21, 1.08,17.22, 1.12,17.23,
  0.90,17.26, 0.93,17.27, 0.95,17.25, 0.97,17.26, 1.00,17.27, 1.03,17.25, 1.06,17.26,
  0.88,17.30, 0.92,17.31, 0.94,17.29, 0.96,17.30, 0.98,17.31, 1.01,17.29, 1.04,17.30, 1.08,17.31,
  0.89,17.34, 0.93,17.35, 0.95,17.33, 0.97,17.34, 1.00,17.35, 1.03,17.33,
  0.90,17.38, 0.94,17.39, 0.96,17.37, 0.99,17.38, 1.02,17.39, 1.06,17.37,
  0.91,17.42, 0.93,17.43, 0.95,17.41, 0.98,17.42, 1.01,17.43,
  0.90,17.46, 0.94,17.47, 0.97,17.45, 1.00,17.46,
  // densest part of the cloud
  1.07,16.12, 1.12,16.13, 1.15,16.11, 1.18,16.12, 1.21,16.13,
  1.05,16.16, 1.09,16.17, 1.13,16.16, 1.17,16.15, 1.20,16.17,
  1.07,16.20, 1.11,16.21, 1.14,16.19, 1.17,16.20, 1.21,16.19,
  1.04,16.24, 1.09,16.25, 1.12,16.24, 1.15,16.23, 1.18,16.25,
  1.05,16.28, 1.08,16.29, 1.11,16.27, 1.14,16.28, 1.17,16.29, 1.20,16.28,
  1.03,16.32, 1.07,16.33, 1.10,16.32, 1.13,16.31, 1.16,16.32, 1.19,16.33,
  1.04,16.36, 1.08,16.37, 1.11,16.36, 1.14,16.35, 1.17,16.36,
  1.02,16.40, 1.06,16.41, 1.09,16.40, 1.12,16.39, 1.15,16.40, 1.18,16.41,
  1.03,16.44, 1.07,16.45, 1.10,16.44, 1.13,16.43, 1.16,16.44,
  1.01,16.48, 1.05,16.49, 1.08,16.48, 1.11,16.47, 1.14,16.48, 1.17,16.49,
  1.02,16.52, 1.05,16.53, 1.08,16.52, 1.11,16.51, 1.14,16.52, 1.18,16.53,
  0.99,16.56, 1.03,16.57, 1.06,16.56, 1.09,16.55, 1.12,16.56, 1.15,16.57,
  1.00,16.60, 1.04,16.61, 1.07,16.60, 1.10,16.59, 1.13,16.60, 1.16,16.61,
  0.98,16.64, 1.02,16.65, 1.05,16.64, 1.08,16.63, 1.11,16.64, 1.14,16.65,
  0.99,16.68, 1.03,16.69, 1.06,16.68, 1.09,16.67, 1.12,16.68, 1.16,16.69,
  0.97,16.72, 1.01,16.73, 1.04,16.72, 1.07,16.71, 1.10,16.72, 1.13,16.73,
  0.98,16.76, 1.02,16.77, 1.05,16.76, 1.08,16.75, 1.11,16.76, 1.15,16.77,
  0.96,16.80, 1.00,16.81, 1.03,16.80, 1.06,16.79, 1.09,16.80, 1.13,16.81,
  0.97,16.84, 1.01,16.85, 1.04,16.84, 1.07,16.83, 1.10,16.84, 1.14,16.85,
  0.95,16.88, 0.99,16.89, 1.02,16.88, 1.05,16.87, 1.08,16.88, 1.12,16.89,
  0.96,16.92, 1.00,16.93, 1.03,16.92, 1.06,16.91, 1.09,16.92, 1.13,16.93,
  0.95,16.96, 0.98,16.97, 1.01,16.96, 1.04,16.95, 1.07,16.96, 1.10,16.97,
  0.95,17.00, 0.98,17.01, 1.01,17.00, 1.04,16.99, 1.07,17.00, 1.11,17.01,
  0.94,17.04, 0.97,17.05, 1.00,17.04, 1.03,17.03, 1.06,17.04, 1.09,17.05,
  0.93,17.08, 0.96,17.09, 0.99,17.08, 1.02,17.07, 1.05,17.08, 1.08,17.09,
  0.94,17.12, 0.97,17.13, 1.00,17.12, 1.03,17.11, 1.06,17.12,
  0.92,17.16, 0.95,17.17, 0.98,17.16, 1.01,17.15, 1.04,17.16, 1.07,17.17,
  0.93,17.20, 0.96,17.21, 0.99,17.20, 1.02,17.19, 1.05,17.20,
  0.91,17.24, 0.95,17.25, 0.98,17.24, 1.01,17.23, 1.04,17.24,
  0.92,17.28, 0.95,17.29, 0.98,17.28, 1.01,17.27,
  0.91,17.32, 0.94,17.33, 0.97,17.32, 1.00,17.31, 1.03,17.32,
  0.92,17.36, 0.95,17.37, 0.98,17.36, 1.01,17.35,
  0.90,17.40, 0.94,17.41, 0.97,17.40, 1.00,17.39,
  0.92,17.44, 0.96,17.45, 0.99,17.44,
  // loose points scattered through the cloud
  1.01,16.16, 1.19,16.24, 1.07,16.35, 1.21,16.45, 1.00,16.52, 1.13,16.62, 0.97,16.69, 1.19,16.79,
  1.03,16.87, 0.99,16.99, 1.15,17.08, 0.97,17.20, 1.09,17.27, 0.93,17.37, 1.05,17.44, 1.24,16.12,
  1.26,16.33, 1.16,16.49, 1.23,16.62, 1.11,16.88, 1.08,17.17, 0.95,17.48, 1.02,16.33, 1.09,16.57,
  1.18,16.71, 1.00,16.92, 1.12,16.97, 0.97,17.13, 1.06,17.34, 0.89,17.26, 1.17,16.43, 1.02,16.69,
  1.14,16.82, 0.94,16.84, 1.13,16.17, 1.09,16.08, 1.15,16.04, 1.20,15.97, 1.26,15.92, 1.11,15.92,
  1.06,15.84, 1.16,15.80, 1.21,15.76, 1.07,15.77, 1.36,15.72, 1.31,15.80, 1.36,15.88, 1.31,15.96,
  1.22,16.28, 1.27,16.40, 1.20,16.55, 1.32,16.45, 1.18,16.93, 1.20,17.05, 1.23,16.88, 1.09,17.36,
  1.13,17.29, 0.99,17.47, 1.16,17.19, 1.24,17.12, 1.27,16.97, 1.31,16.67, 1.36,16.51, 1.40,16.38,
  1.46,16.29, 1.50,16.19, 1.49,16.35, 1.43,16.45, 1.39,16.88, 1.45,16.80, 1.30,17.05, 1.21,17.30
];

// ---------- legend ----------
const legendItems = [
  {label: "C-rich Miras (50)", color: "#ff0000", shape: "dot"},
  {label: "O-rich Miras/SG  (10/1)", color: "#0000ff", shape: "dot"},
  {label: "Large-amp variables", color: "#ffff00", shape: "triangle"},
  {label: "Small-amp variables", color: "#008000", shape: "triangle"},
  {label: "Cepheids (15)", color: "#e633e6", shape: "dot"}
];

// ---------- helpers ----------
function toPairs(flat, name) {
  if (flat.length % 2) throw new Error(name + " has an odd number of values");
  return d3.range(0, flat.length, 2).map(i => [flat[i], flat[i + 1]]);
}
const field = toPairs(foregroundStars, "foregroundStars");
const members = toPairs(memberStars, "memberStars");

// frame geometry (pixels)
const W = 1941, H = 1253;
const M = {left: 120, right: 702, top: 22, bottom: 112};
const innerW = W - M.left - M.right;
const innerH = H - M.top - M.bottom;
const major = 20, minor = 10;

const jk = d => d[0], ks = d => d[1];

const chart = Plot.plot({
  width: W,
  height: H,
  marginLeft: M.left,
  marginRight: M.right,
  marginTop: M.top,
  marginBottom: M.bottom,
  style: {background: "white"},
  x: {domain: [0.2, 4.5], axis: null},
  y: {domain: [17.5, 12], axis: null},
  marks: [
    Plot.dot(field, {x: jk, y: ks, r: 2.5, fill: "#999999", clip: true}),
    Plot.dot(members, {x: jk, y: ks, r: 2.4, fill: "#000000", clip: true}),
    Plot.dot(smallAmpVariables, {x: jk, y: ks, symbol: "triangle", r: 4.6, fill: "#00ee00", stroke: "#000", strokeWidth: 1}),
    Plot.dot(cRichMiras, {x: jk, y: ks, r: 5.8, fill: "#ff0000"}),
    Plot.dot(largeAmpVariables, {x: jk, y: ks, symbol: "triangle", r: 4.6, fill: "#ffff00", stroke: "#000", strokeWidth: 1}),
    Plot.dot(oRichMiras, {x: jk, y: ks, r: 5.6, fill: "#0000ff"}),
    Plot.dot(cepheids, {x: jk, y: ks, r: 5.6, fill: "#ff00ff"}),
    // inward ticks on all four sides
    Plot.tickX(xMajorTicks, {x: d => d, insetTop: innerH - major, strokeWidth: 2}),
    Plot.tickX(xMajorTicks, {x: d => d, insetBottom: innerH - major, strokeWidth: 2}),
    Plot.tickX(xMinorTicks, {x: d => d, insetTop: innerH - minor, strokeWidth: 2}),
    Plot.tickX(xMinorTicks, {x: d => d, insetBottom: innerH - minor, strokeWidth: 2}),
    Plot.tickY(yMajorTicks, {y: d => d, insetRight: innerW - major, strokeWidth: 2}),
    Plot.tickY(yMajorTicks, {y: d => d, insetLeft: innerW - major, strokeWidth: 2}),
    Plot.tickY(yMinorTicks, {y: d => d, insetRight: innerW - minor, strokeWidth: 2}),
    Plot.tickY(yMinorTicks, {y: d => d, insetLeft: innerW - minor, strokeWidth: 2}),
    Plot.frame({stroke: "#000", strokeWidth: 2}),
    Plot.ruleY([12, 17.5], {stroke: "#000", strokeWidth: 3})
  ]
});

document.getElementById("chart").appendChild(chart);

// ---------- tick labels, axis titles and legend ----------
const svg = d3.select(chart);
const sx = chart.scale("x"), sy = chart.scale("y");
const bottom = H - M.bottom;

// x tick labels: tall, condensed digits
svg.append("g")
  .attr("text-anchor", "middle")
  .selectAll("text").data(xMajorTicks).join("text")
  .attr("transform", d => `translate(${sx.apply(d)},${bottom + 45}) scale(0.5,1)`)
  .attr("font-family", "'Liberation Sans', Arial, sans-serif")
  .attr("font-size", 42)
  .text(d => d);

// y tick labels
svg.append("g")
  .attr("text-anchor", "end")
  .selectAll("text").data(yMajorTicks).join("text")
  .attr("x", M.left - 16)
  .attr("y", d => sy.apply(d))
  .attr("dy", "0.36em")
  .attr("font-family", "'Liberation Serif', 'DejaVu Serif', serif")
  .attr("font-weight", "bold")
  .attr("font-size", 28)
  .attr("letter-spacing", 6)
  .text(d => d);

// axis titles with subscript S
const xTitle = svg.append("g")
  .attr("transform", `translate(611,${H - 17}) scale(0.82,1)`)
  .attr("text-anchor", "start")
  .attr("font-family", "'Liberation Sans', Arial, sans-serif");
xTitle.append("text").attr("font-size", 54).text("J-K");
xTitle.append("text").attr("x", 88).attr("y", 6).attr("font-size", 40).text("S");

const yTitle = svg.append("g")
  .attr("transform", `translate(14,592) scale(0.82,1)`)
  .attr("text-anchor", "start")
  .attr("font-family", "'Liberation Sans', Arial, sans-serif");
yTitle.append("text").attr("font-size", 54).text("K");
yTitle.append("text").attr("x", 37).attr("y", 9).attr("font-size", 40).text("S");

// legend rows: symbol centre y, text baseline, text start x
const legendLayout = [
  {cy: 183, base: 205, tx: 1443},
  {cy: 254, base: 273, tx: 1436},
  {cy: 312, base: 329, tx: 1406},
  {cy: 366, base: 383, tx: 1404},
  {cy: 429, base: 453, tx: 1427}
];
const legend = svg.append("g")
  .attr("text-anchor", "start")
  .attr("font-family", "'Liberation Sans', Arial, sans-serif");
legendItems.forEach((item, i) => {
  const pos = legendLayout[i];
  if (item.shape === "dot") {
    legend.append("ellipse").attr("cx", 1364).attr("cy", pos.cy).attr("rx", 7).attr("ry", 8)
      .attr("fill", item.color);
  } else {
    legend.append("path")
      .attr("d", `M${1351},${pos.cy + 12} L${1363},${pos.cy - 13} L${1375},${pos.cy + 12} Z`)
      .attr("fill", "none").attr("stroke", item.color).attr("stroke-width", 4)
      .attr("stroke-linejoin", "miter");
  }
  legend.append("text")
    .attr("x", pos.tx).attr("y", pos.base)
    .attr("font-size", 48)
    .style("white-space", "pre")
    .text(item.label);
});
</script>
</body>
</html>
